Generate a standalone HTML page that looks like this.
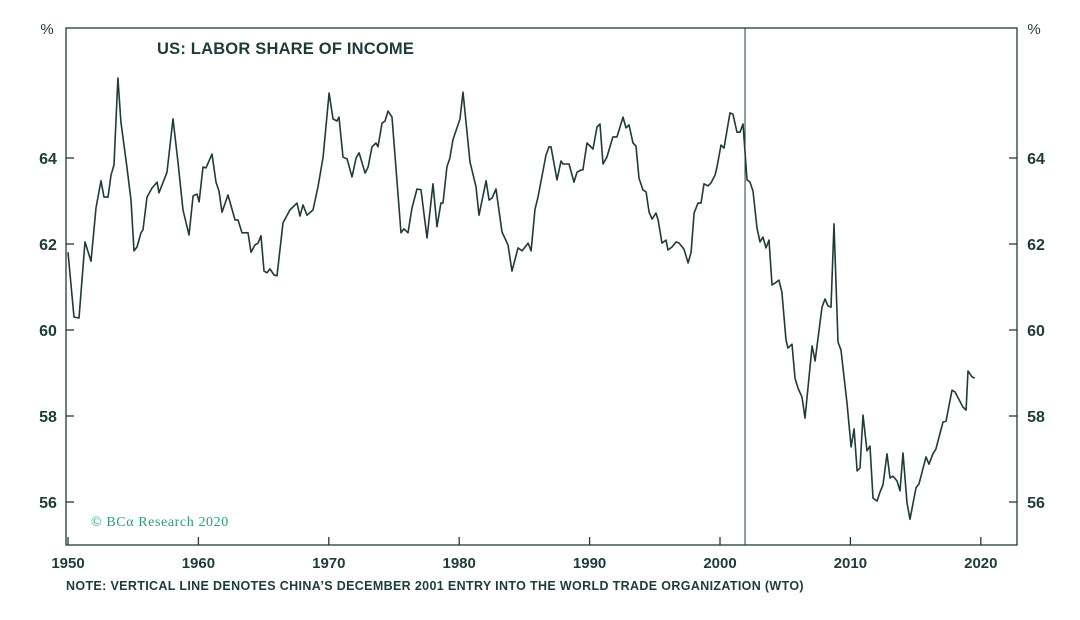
<!DOCTYPE html>
<html><head><meta charset="utf-8"><style>
body{margin:0;background:#fff;width:1080px;height:615px;overflow:hidden;font-family:"Liberation Sans",sans-serif}
</style></head><body>
<svg id="chart" width="1080" height="615" xmlns="http://www.w3.org/2000/svg"></svg>
<script>
const years=[1950.00,1950.46,1950.84,1951.30,1951.76,1952.15,1952.53,1952.76,1953.07,1953.30,1953.53,1953.83,1954.06,1954.52,1954.83,1955.06,1955.29,1955.60,1955.75,1956.06,1956.44,1956.83,1956.98,1957.59,1958.05,1958.44,1958.82,1959.28,1959.59,1959.89,1960.05,1960.35,1960.58,1961.04,1961.35,1961.58,1961.81,1962.27,1962.81,1963.04,1963.34,1963.80,1964.03,1964.34,1964.57,1964.80,1965.03,1965.26,1965.49,1965.80,1966.03,1966.49,1967.02,1967.56,1967.79,1968.02,1968.33,1968.79,1969.17,1969.56,1970.02,1970.32,1970.63,1970.78,1971.09,1971.40,1971.78,1972.09,1972.32,1972.78,1973.01,1973.31,1973.62,1973.77,1974.08,1974.31,1974.54,1974.85,1975.54,1975.77,1976.07,1976.38,1976.76,1977.07,1977.53,1977.99,1978.30,1978.60,1978.76,1979.06,1979.29,1979.52,1980.06,1980.29,1980.83,1981.29,1981.52,1982.06,1982.29,1982.52,1982.82,1983.28,1983.74,1984.05,1984.51,1984.82,1985.28,1985.51,1985.81,1986.04,1986.66,1986.89,1987.04,1987.50,1987.81,1987.96,1988.42,1988.80,1989.03,1989.34,1989.49,1989.80,1990.26,1990.57,1990.80,1991.03,1991.33,1991.79,1992.10,1992.56,1992.79,1993.02,1993.33,1993.56,1993.79,1994.09,1994.33,1994.56,1994.79,1995.09,1995.25,1995.55,1995.86,1996.01,1996.32,1996.63,1996.86,1997.24,1997.55,1997.78,1998.01,1998.31,1998.54,1998.77,1999.08,1999.31,1999.62,1999.77,2000.08,2000.31,2000.77,2000.99,2001.30,2001.53,2001.76,2002.07,2002.30,2002.53,2002.84,2003.07,2003.30,2003.53,2003.76,2003.99,2004.22,2004.52,2004.75,2005.06,2005.21,2005.52,2005.75,2005.98,2006.29,2006.52,2007.06,2007.29,2007.82,2008.05,2008.28,2008.51,2008.74,2009.05,2009.28,2009.74,2010.05,2010.28,2010.51,2010.74,2010.97,2011.27,2011.50,2011.73,2012.04,2012.27,2012.50,2012.81,2013.04,2013.27,2013.57,2013.80,2014.03,2014.34,2014.57,2015.03,2015.26,2015.80,2016.03,2016.33,2016.56,2017.10,2017.33,2017.79,2018.02,2018.63,2018.87,2019.02,2019.33,2019.55];
const laborShare=[61.81,60.30,60.28,62.05,61.60,62.84,63.47,63.09,63.09,63.60,63.84,65.86,64.84,63.79,63.02,61.84,61.93,62.26,62.33,63.09,63.30,63.44,63.19,63.67,64.91,63.88,62.79,62.21,63.12,63.16,62.98,63.79,63.77,64.09,63.44,63.23,62.74,63.14,62.56,62.56,62.26,62.26,61.81,61.98,62.02,62.19,61.37,61.33,61.42,61.28,61.26,62.49,62.79,62.95,62.65,62.91,62.67,62.79,63.33,64.02,65.51,64.91,64.86,64.95,64.02,63.98,63.56,64.00,64.12,63.65,63.79,64.26,64.35,64.26,64.81,64.86,65.09,64.95,62.26,62.35,62.26,62.84,63.28,63.26,62.14,63.40,62.40,62.95,62.95,63.79,64.00,64.42,64.91,65.53,63.91,63.33,62.67,63.47,63.02,63.07,63.28,62.28,61.98,61.37,61.91,61.84,62.02,61.84,62.81,63.09,64.07,64.26,64.26,63.49,63.93,63.86,63.86,63.44,63.67,63.72,63.72,64.35,64.21,64.72,64.79,63.86,64.02,64.49,64.49,64.95,64.70,64.77,64.35,64.28,63.53,63.26,63.21,62.74,62.58,62.72,62.56,62.02,62.09,61.86,61.93,62.05,62.02,61.88,61.56,61.81,62.72,62.95,62.95,63.40,63.35,63.42,63.60,63.79,64.30,64.23,65.05,65.02,64.60,64.60,64.79,63.49,63.44,63.23,62.37,62.05,62.16,61.91,62.09,61.05,61.09,61.16,60.88,59.77,59.58,59.67,58.88,58.65,58.44,57.95,59.63,59.28,60.53,60.72,60.56,60.53,62.47,59.72,59.53,58.30,57.28,57.70,56.72,56.79,58.02,57.19,57.30,56.09,56.02,56.23,56.40,57.12,56.56,56.60,56.49,56.26,57.14,55.98,55.60,56.33,56.42,57.05,56.88,57.12,57.23,57.86,57.88,58.60,58.56,58.21,58.14,59.05,58.91,58.88];
const xTicks=[1950,1960,1970,1980,1990,2000,2010,2020];
const yTicks=[56,58,60,62,64];
const wtoYear=2001.92;

const C="#1f3a3a";
const L=66,R=1017,T=28,B=545;
const X0=1950,XS=13.04,XL=68;
function xs(y){return XL+(y-X0)*XS;}
function ys(v){return 158-(v-64)*43;}
const svg=document.getElementById('chart');
const NS="http://www.w3.org/2000/svg";
function mk(tag,attrs,text){const e=document.createElementNS(NS,tag);for(const k in attrs)e.setAttribute(k,attrs[k]);if(text!==undefined)e.textContent=text;svg.appendChild(e);return e;}

let e=mk('rect',{x:L,y:T,width:R-L,height:B-T,fill:'none',stroke:C,'stroke-width':1.3});



yTicks.forEach(v=>{
 const y=ys(v);
 let t=mk('line',{x1:L,x2:L+8,y1:y,y2:y,stroke:C,'stroke-width':1.3});
 
 
 t=mk('line',{x1:R-8,x2:R,y1:y,y2:y,stroke:C,'stroke-width':1.3});
 
 
 t=mk('text',{x:48,y:y+6,'text-anchor':'middle','font-size':16,'font-weight':'bold',fill:C},String(v));
 
 
 t=mk('text',{x:1036,y:y+6,'text-anchor':'middle','font-size':16,'font-weight':'bold',fill:C},String(v));
 
 
});
xTicks.forEach(yr=>{
 const x=xs(yr);
 let t=mk('line',{x1:x,x2:x,y1:B-8,y2:B,stroke:C,'stroke-width':1.3});
 
 
 t=mk('text',{x:x,y:568,'text-anchor':'middle','font-size':15,'font-weight':'bold',fill:C},String(yr));
 
 
});
e=mk('text',{x:47,y:34,'text-anchor':'middle','font-size':15,fill:C},'%');


e=mk('text',{x:1034,y:34,'text-anchor':'middle','font-size':15,fill:C},'%');



e=mk('line',{x1:xs(wtoYear),x2:xs(wtoYear),y1:T,y2:B,stroke:C,'stroke-width':1});



const d=years.map((yr,i)=>(i?'L':'M')+xs(yr).toFixed(1)+' '+ys(laborShare[i]).toFixed(1)).join(' ');
e=mk('path',{d:d,fill:'none',stroke:C,'stroke-width':1.6,'stroke-linejoin':'round'});



e=mk('text',{x:157,y:54,'font-size':16.5,'font-weight':'bold','letter-spacing':0.2,fill:C},'US: LABOR SHARE OF INCOME');


e=mk('text',{x:91,y:526,'font-size':14,'letter-spacing':0.6,fill:'#2a9d7c','font-family':'Liberation Serif, serif'},'© BCα Research 2020');


e=mk('text',{x:66,y:590,'font-size':12.5,'font-weight':'bold','letter-spacing':0.35,fill:C},'NOTE: VERTICAL LINE DENOTES CHINA’S DECEMBER 2001 ENTRY INTO THE WORLD TRADE ORGANIZATION (WTO)');


</script>
</body></html>
